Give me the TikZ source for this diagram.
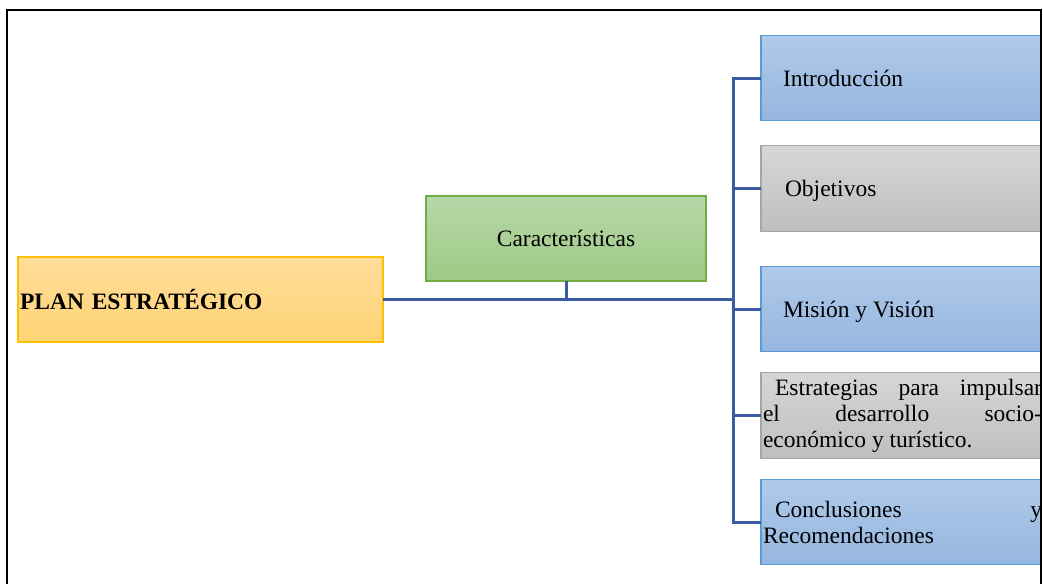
\documentclass[tikz,border=0pt]{standalone}
\usepackage{fontspec}
\setmainfont{Liberation Serif}
\definecolor{bluetop}{HTML}{B0CAE9}
\definecolor{bluebot}{HTML}{95B6DF}
\definecolor{blueline}{HTML}{5B9BD5}
\definecolor{graytop}{HTML}{D6D6D6}
\definecolor{graybot}{HTML}{BFBFBF}
\definecolor{grayline}{HTML}{A5A5A5}
\definecolor{greentop}{HTML}{B7D7A8}
\definecolor{greenbot}{HTML}{9ECA86}
\definecolor{greenline}{HTML}{70AD47}
\definecolor{orangetop}{HTML}{FFDC9A}
\definecolor{orangebot}{HTML}{FFD474}
\definecolor{orangeline}{HTML}{FFC000}
\definecolor{connc}{HTML}{3B5CA3}
\hyphenpenalty=10000
\begin{document}
\begin{tikzpicture}[x=1pt,y=-1pt,
  every node/.style={font=\fontsize{23.5}{26}\selectfont},
  box/.style={rectangle, line width=1.2pt, minimum height=85.5pt, inner xsep=2pt, inner ysep=0pt,
    outer sep=0pt, text width=279pt, align=justify, anchor=west},
  oneline/.style={text depth=0pt},
  bluebox/.style={box, draw=blueline, top color=bluetop, bottom color=bluebot},
  graybox/.style={box, draw=grayline, top color=graytop, bottom color=graybot},
  conn/.style={draw=connc, line width=3pt},
  frame/.style={draw=black, line width=2pt}
]
\useasboundingbox (0,0) rectangle (1043,584);

\node[rectangle, draw=orangeline, line width=1.2pt, top color=orangetop, bottom color=orangebot,
  minimum height=85pt, inner xsep=2pt, inner ysep=0pt, outer sep=0pt, text width=361pt, align=left,
  anchor=west, font=\fontsize{23.5}{26}\selectfont\bfseries] (plan) at (18,299.5) {PLAN ESTRATÉGICO};

\node[rectangle, draw=greenline, line width=1.2pt, top color=greentop, bottom color=greenbot,
  minimum height=85pt, minimum width=280pt, outer sep=0pt] (car) at (566,238.5) {Características};

\begin{scope}
\clip (0,0) rectangle (1040,584);
\node[bluebox, oneline] (intro) at (761,78) {\hspace*{20pt}Introducción};
\node[graybox, oneline] (obj) at (761,188.5) {\hspace*{22pt}Objetivos};
\node[bluebox, oneline] (mis) at (761,309) {\hspace*{20pt}Misión y Visión};
\node[graybox] (est) at (761,415.5) {\hspace*{12pt}Estrategias para impulsar\linebreak el desarrollo socio-\linebreak económico y turístico.};
\node[bluebox] (con) at (761,522) {\hspace*{12pt}Conclusiones y\linebreak Recomendaciones};
\end{scope}

\coordinate (j) at (733,299.5);
\draw[conn] (plan.east) -- (j);
\draw[conn] (car.south) -- (car.south |- j);
\draw[conn] (j) |- (intro.west);
\draw[conn] (j) |- (obj.west);
\draw[conn] (j) |- (mis.west);
\draw[conn] (j) |- (est.west);
\draw[conn] (j) |- (con.west);

\draw[frame] (6.5,584) -- (6.5,10) -- (1040.5,10) -- (1040.5,584);
\end{tikzpicture}
\end{document}
